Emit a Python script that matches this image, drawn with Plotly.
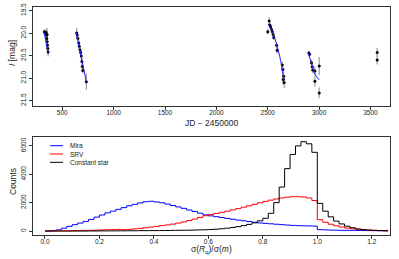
import plotly.graph_objects as go

# ---------------- Top panel data: light curve ----------------
obs_jd = [325, 332, 341, 347, 352, 349, 353, 356, 359, 362,
          640, 645, 652, 660, 665, 672, 679, 685, 691, 695, 700, 734,
          2500, 2514, 2520, 2527, 2537, 2545, 2553, 2559, 2586, 2592,
          2641, 2647, 2650, 2655, 2660,
          2900, 2907, 2926, 2933, 2938, 2959, 2959, 3001, 3001,
          3565, 3565]
obs_mag = [19.97, 20.00, 19.98, 20.05, 20.03, 20.12, 20.19, 20.27, 20.34, 20.42,
           20.00, 20.04, 20.12, 20.22, 20.29, 20.37, 20.43, 20.51, 20.63, 20.74, 20.83, 21.08,
           19.97, 19.73, 19.82, 19.86, 19.92, 19.97, 20.03, 20.10, 20.27, 20.38,
           20.71, 20.81, 21.03, 20.96, 21.10,
           20.44, 20.47, 20.66, 20.75, 20.82, 20.84, 21.07, 20.73, 21.33,
           20.43, 20.60]
obs_err = [0.05, 0.05, 0.08, 0.06, 0.14, 0.07, 0.08, 0.08, 0.10, 0.10,
           0.12, 0.06, 0.06, 0.06, 0.07, 0.08, 0.07, 0.08, 0.08, 0.08, 0.07, 0.18,
           0.06, 0.08, 0.05, 0.05, 0.05, 0.06, 0.05, 0.06, 0.07, 0.08,
           0.08, 0.10, 0.12, 0.10, 0.12,
           0.05, 0.06, 0.07, 0.07, 0.08, 0.10, 0.12, 0.20, 0.12,
           0.10, 0.10]

fit_segments = [
    ([322, 362], [19.97, 20.45]),
    ([636, 734], [19.99, 21.08]),
    ([2504, 2553, 2592, 2618, 2650, 2660], [19.80, 20.01, 20.30, 20.53, 20.93, 21.04]),
    ([2893, 2926, 2959, 3001], [20.44, 20.67, 20.91, 21.04]),
]

# ---------------- Bottom panel data: histograms ----------------
bin_edges = [round(0.02 * i, 2) for i in range(64)]  # 0.00 ... 1.26
mira_counts = [0, 30, 80, 200, 330, 450, 560, 680, 820, 980,
               1130, 1280, 1400, 1530, 1650, 1780, 1880, 1980, 2060, 2100,
               2050, 1990, 1900, 1800, 1700, 1600, 1480, 1380, 1260, 1140,
               1070, 1010, 950, 890, 830, 770, 720, 670, 620, 570,
               540, 510, 480, 450, 420, 400, 380, 370, 360, 350,
               100, 80, 70, 60, 55, 50, 45, 40, 35, 30,
               25, 20, 15]
srv_counts = [0, 5, 10, 15, 20, 25, 30, 40, 50, 60,
              75, 90, 105, 120, 100, 120, 150, 190, 230, 280,
              330, 380, 430, 490, 560, 640, 740, 840, 960, 1080,
              1160, 1240, 1320, 1400, 1490, 1580, 1680, 1780, 1880, 1990,
              2090, 2180, 2260, 2330, 2390, 2420, 2420, 2400, 2330, 2150,
              800, 620, 480, 370, 280, 210, 160, 120, 90, 65,
              45, 30, 20]
const_counts = [0, 0, 0, 0, 0, 0, 0, 0, 5, 5,
                10, 10, 10, 15, 15, 20, 20, 25, 25, 30,
                30, 35, 40, 45, 50, 55, 60, 70, 80, 90,
                110, 130, 160, 200, 250, 310, 380, 470, 580, 720,
                900, 1250, 2000, 3100, 4400, 5400, 6000, 6300, 6150, 5550,
                1950, 1400, 1000, 700, 500, 340, 230, 150, 100, 70,
                50, 35, 25]

series = [("Mira", mira_counts, "#0000ff"),
          ("SRV", srv_counts, "#ff0000"),
          ("Constant star", const_counts, "#000000")]

x_ticks_top = [500, 1000, 1500, 2000, 2500, 3000, 3500]
y_ticks_top = [19.5, 20.0, 20.5, 21.0, 21.5]
x_ticks_bot = [0.0, 0.2, 0.4, 0.6, 0.8, 1.0, 1.2]
y_ticks_bot = [0, 2000, 4000, 6000]

FONT = "Liberation Sans, Arial, sans-serif"
AXC = "#333333"

fig = go.Figure()

fig.add_trace(go.Scatter(
    x=obs_jd, y=obs_mag, mode="markers",
    marker=dict(size=3, color="black"),
    error_y=dict(type="data", array=obs_err, visible=True, color="#a0a0a0",
                 thickness=1.2, width=0),
    xaxis="x", yaxis="y", showlegend=False, hoverinfo="skip"))

for fx, fy in fit_segments:
    fig.add_trace(go.Scatter(x=fx, y=fy, mode="lines", line=dict(color="#2020ff", width=1),
                             line_shape="spline",
                             xaxis="x", yaxis="y", showlegend=False, hoverinfo="skip"))

for name, counts, col in series:
    xs = bin_edges[:len(counts)] + [bin_edges[len(counts)]]
    ys = counts + [counts[-1]]
    fig.add_trace(go.Scatter(x=xs, y=ys, mode="lines", line=dict(color=col, width=1),
                             line_shape="hv", name=name,
                             xaxis="x2", yaxis="y2", showlegend=False, hoverinfo="skip"))

axis_common = dict(showline=True, linecolor=AXC, linewidth=1, mirror=True,
                   ticks="outside", ticklen=3, tickcolor=AXC, tickwidth=1,
                   showgrid=False, zeroline=False, automargin=False,
                   tickfont=dict(family=FONT, size=6.5, color="#222222"))

top_dom = [(235 - 106) / 228, 1.0]
bot_dom = [0.0, (235 - 137) / 228]

fig.update_layout(
    width=399, height=259,
    margin=dict(l=33, r=9, t=7, b=24, autoexpand=False),
    paper_bgcolor="white", plot_bgcolor="white",
    font=dict(family=FONT, color="#222222"),
    xaxis=dict(domain=[0, 1], anchor="y", range=[215, 3690], tickvals=x_ticks_top,
               ticktext=[str(v) for v in x_ticks_top], ticklabelstandoff=-3, **axis_common),
    yaxis=dict(domain=top_dom, anchor="x", range=[21.62, 19.42], tickvals=y_ticks_top,
               ticktext=["%.1f" % v for v in y_ticks_top], tickangle=-90, **axis_common),
    xaxis2=dict(domain=[0, 1], anchor="y2", range=[-0.044, 1.267], tickvals=x_ticks_bot,
                ticktext=["%.1f" % v for v in x_ticks_bot], ticklabelstandoff=-3, **axis_common),
    yaxis2=dict(domain=bot_dom, anchor="x2", range=[-280, 6630], tickvals=y_ticks_bot,
                ticktext=[str(v) for v in y_ticks_bot], tickangle=-90, **axis_common),
)

def px_x(p):
    return (p - 33) / 357

def px_y(p):
    return (235 - p) / 228

ann = []
ann.append(dict(text="<i>I</i> [mag]", x=px_x(12), y=px_y(53), textangle=-90))
ann.append(dict(text="JD \u2212 2450000", x=px_x(211), y=px_y(123)))
ann.append(dict(text="Counts", x=px_x(13), y=px_y(182), textangle=-90))
ann.append(dict(text="\u03c3(<i>R</i><sub>q</sub>)/\u03c3(<i>m</i>)", x=px_x(211), y=px_y(249)))
annotations = []
for a in ann:
    d = dict(xref="paper", yref="paper", showarrow=False, xanchor="center", yanchor="middle",
             font=dict(family=FONT, size=8.5, color="#222222"))
    d.update(a)
    annotations.append(d)

shapes = []
leg_rows = [145.7, 154.0, 162.3]
for (name, counts, col), ry in zip(series, leg_rows):
    shapes.append(dict(type="line", xref="paper", yref="paper",
                       x0=px_x(50), x1=px_x(63), y0=px_y(ry), y1=px_y(ry),
                       line=dict(color=col, width=1)))
    annotations.append(dict(xref="paper", yref="paper", showarrow=False, text=name,
                            x=px_x(68), y=px_y(ry), xanchor="left", yanchor="middle",
                            font=dict(family=FONT, size=6.5, color="#222222")))

fig.update_layout(annotations=annotations, shapes=shapes)

fig.write_html("out.html", config={"displayModeBar": False},
               post_script="document.body.style.margin='0';document.body.style.padding='0';")
